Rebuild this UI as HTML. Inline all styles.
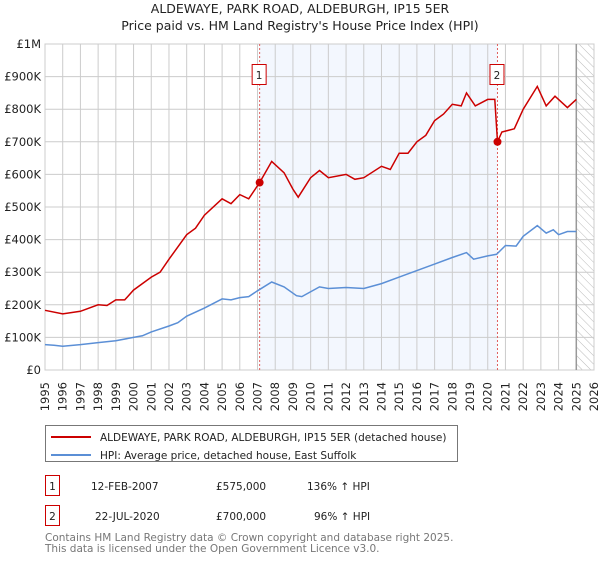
<!DOCTYPE html>
<html><head><meta charset="utf-8"><style>
body{margin:0;background:#fff;font-family:"DejaVu Sans","Liberation Sans",sans-serif;}
svg text{font-family:"DejaVu Sans","Liberation Sans",sans-serif;}
</style></head><body>
<svg id="c" width="600" height="560" xmlns="http://www.w3.org/2000/svg">
<defs><pattern id="hatch" width="6" height="6" patternUnits="userSpaceOnUse" patternTransform="rotate(-45)"><line x1="0" y1="0" x2="0" y2="6" stroke="#bbb" stroke-width="1"/></pattern></defs>
<text x="300" y="13" text-anchor="middle" font-size="12.5" fill="#222">ALDEWAYE, PARK ROAD, ALDEBURGH, IP15 5ER</text>
<text x="300" y="30" text-anchor="middle" font-size="12.5" fill="#222">Price paid vs. HM Land Registry's House Price Index (HPI)</text>
<g id="grid"></g><g id="marks"></g>
<g>
<rect x="45.5" y="425.5" width="412" height="36" fill="#fff" stroke="#777"/>
<line x1="51" y1="437" x2="91" y2="437" stroke="#cc0000" stroke-width="2"/>
<text x="100" y="441" font-size="10.5" fill="#222">ALDEWAYE, PARK ROAD, ALDEBURGH, IP15 5ER (detached house)</text>
<line x1="51" y1="455" x2="91" y2="455" stroke="#5b8fd6" stroke-width="2"/>
<text x="100" y="459" font-size="10.5" fill="#222">HPI: Average price, detached house, East Suffolk</text>
</g>
<g font-size="10.5" fill="#222">
<rect x="45.5" y="475.5" width="14" height="20" fill="#fff" stroke="#cc0000"/><text x="52.5" y="490" text-anchor="middle">1</text>
<text x="91" y="490">12-FEB-2007</text><text x="216" y="490">£575,000</text><text x="307" y="490">136% ↑ HPI</text>
<rect x="45.5" y="505.5" width="14" height="20" fill="#fff" stroke="#cc0000"/><text x="52.5" y="520" text-anchor="middle">2</text>
<text x="95" y="520">22-JUL-2020</text><text x="216" y="520">£700,000</text><text x="314" y="520">96% ↑ HPI</text>
</g>
<text x="45" y="541" font-size="10.5" fill="#777">Contains HM Land Registry data © Crown copyright and database right 2025.</text>
<text x="45" y="552" font-size="10.5" fill="#777">This data is licensed under the Open Government Licence v3.0.</text>
</svg>
<script>
const hpiYears=[1995,1995.5,1996,1997,1998,1999,2000,2000.5,2001,2002,2002.5,2003,2004,2005,2005.5,2006,2006.5,2007,2007.8,2008.5,2009.2,2009.5,2010.5,2011,2012,2013,2014,2015,2016,2017,2018,2018.8,2019.2,2020,2020.5,2021,2021.6,2022,2022.8,2023.3,2023.7,2024,2024.5,2025];
const hpiValues=[78,76,73,78,84,90,100,105,117,135,145,165,190,218,215,222,225,243,270,255,228,225,255,250,253,250,265,285,305,325,345,360,340,350,355,382,380,410,443,420,430,415,425,425];
const priceYears=[1995,1996,1997,1998,1998.5,1999,1999.5,2000,2001,2001.5,2002,2003,2003.5,2004,2005,2005.5,2006,2006.5,2007.12,2007.8,2008.5,2009,2009.3,2010,2010.5,2011,2012,2012.5,2013,2014,2014.5,2015,2015.5,2016,2016.5,2017,2017.5,2018,2018.5,2018.8,2019.3,2020,2020.4,2020.55,2020.8,2021.5,2022,2022.8,2023.3,2023.8,2024.5,2025];
const priceValues=[183,172,180,200,198,215,215,245,285,300,340,415,435,475,525,510,538,525,575,640,605,555,530,590,612,590,600,585,590,625,615,665,665,700,720,765,785,815,810,850,810,830,830,700,730,740,800,870,810,840,805,830];
const saleYears=[2007.12,2020.55];
const saleValues=[575,700];
const saleLabels=["1","2"];
const yTicks=[0,100,200,300,400,500,600,700,800,900,1000];
const yTickLabels=["£0","£100K","£200K","£300K","£400K","£500K","£600K","£700K","£800K","£900K","£1M"];
const xTickYears=[1995,1996,1997,1998,1999,2000,2001,2002,2003,2004,2005,2006,2007,2008,2009,2010,2011,2012,2013,2014,2015,2016,2017,2018,2019,2020,2021,2022,2023,2024,2025,2026];
const X0=45,X1=594,Y0=370,Y1=44;
const xs=y=>X0+(y-1995)/(2026-1995)*(X1-X0);
const ys=v=>Y0-v/1000*(Y0-Y1);
const NS="http://www.w3.org/2000/svg";
function mk(p,t,a){const e=document.createElementNS(NS,t);for(const k in a)e.setAttribute(k,a[k]);p.appendChild(e);return e;}
const g=document.getElementById('grid'),m=document.getElementById('marks');
const sh=mk(g,'rect',{x:xs(saleYears[0]),y:Y1,width:xs(saleYears[1])-xs(saleYears[0]),height:Y0-Y1,fill:'#eef3fd',opacity:0.7});


const hz=mk(g,'rect',{x:xs(2025),y:Y1,width:X1-xs(2025),height:Y0-Y1,fill:'url(#hatch)'});


yTicks.forEach((v,i)=>{
 mk(g,'line',{x1:X0,x2:X1,y1:ys(v),y2:ys(v),stroke:'#ccc','stroke-width':1});
 const t=mk(g,'text',{x:X0-4,y:ys(v)+4,'text-anchor':'end','font-size':11.5,fill:'#222'});t.textContent=yTickLabels[i];
 
 
});
xTickYears.forEach(yr=>{
 mk(g,'line',{x1:xs(yr),x2:xs(yr),y1:Y1,y2:Y0,stroke:'#ccc','stroke-width':1});
 const t=mk(g,'text',{x:0,y:0,'text-anchor':'end','font-size':11.5,fill:'#222',transform:`translate(${xs(yr)+4},${Y0+12}) rotate(-90)`});t.textContent=yr;
 
 
});
mk(g,'rect',{x:X0,y:Y1,width:X1-X0,height:Y0-Y1,fill:'none',stroke:'#ccc'});
mk(g,'line',{x1:xs(2025),x2:xs(2025),y1:Y1,y2:Y0,stroke:'#999','stroke-width':1.5});
saleYears.forEach((yr,i)=>{
 const l=mk(m,'line',{x1:xs(yr),x2:xs(yr),y1:Y1,y2:Y0,stroke:'#e06060','stroke-dasharray':'2,2'});
 
 
});
const pts=(xa,va)=>xa.map((x,i)=>xs(x).toFixed(1)+','+ys(va[i]).toFixed(1)).join(' ');
const hl=mk(m,'polyline',{points:pts(hpiYears,hpiValues),fill:'none',stroke:'#5b8fd6','stroke-width':1.5});


const pl=mk(m,'polyline',{points:pts(priceYears,priceValues),fill:'none',stroke:'#cc0000','stroke-width':1.5});


saleYears.forEach((yr,i)=>{
 const c=mk(m,'circle',{cx:xs(yr),cy:ys(saleValues[i]),r:4,fill:'#cc0000'});
 
 
 const b=mk(m,'rect',{x:xs(yr)-7.5,y:64.5,width:14,height:20,fill:'#fff',stroke:'#cc0000'});
 
 
 const t=mk(m,'text',{x:xs(yr)-0.5,y:79,'text-anchor':'middle','font-size':10.5,fill:'#222'});t.textContent=saleLabels[i];
 
 
});
</script>
</body></html>
